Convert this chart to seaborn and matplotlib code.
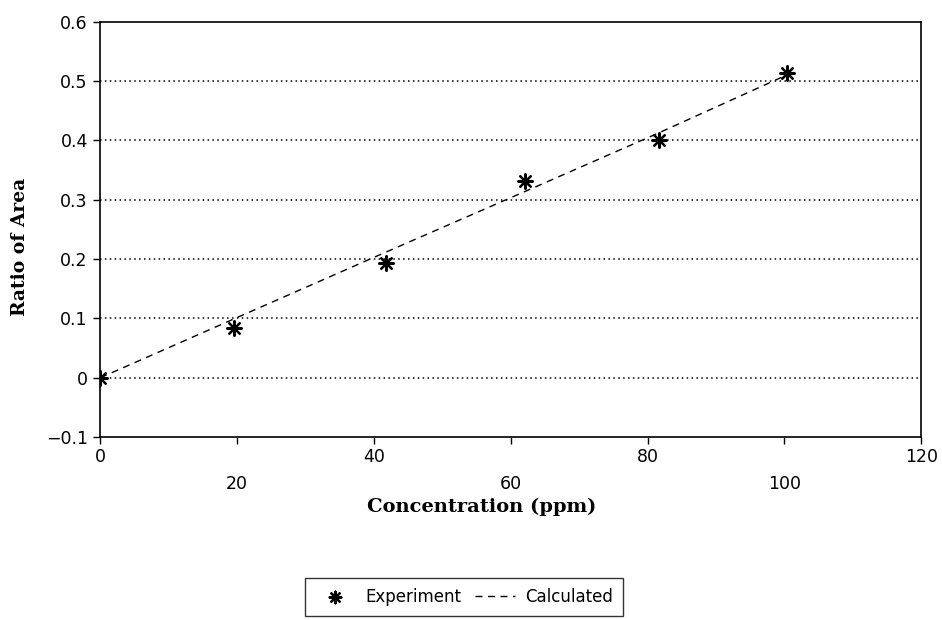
import matplotlib
matplotlib.use("Agg")
import matplotlib.pyplot as plt
import seaborn as sns
import pandas as pd

# ---- data ----
concentration = [0, 19.5, 41.8, 62.1, 81.7, 100.3]
ratio_experiment = [0.0, 0.084, 0.194, 0.332, 0.401, 0.514]
ratio_calculated = [0.0, 0.099, 0.212, 0.314, 0.413, 0.510]
x_major_ticks = [0, 40, 80, 120]
x_minor_ticks = [20, 60, 100]
y_ticks = [-0.1, 0, 0.1, 0.2, 0.3, 0.4, 0.5, 0.6]
y_tick_labels = ["\u22120.1", "0", "0.1", "0.2", "0.3", "0.4", "0.5", "0.6"]

df = pd.DataFrame({"conc": concentration,
                   "exp": ratio_experiment,
                   "calc": ratio_calculated})

sns.set_style("white")
plt.rcParams["font.family"] = ["DejaVu Sans"]
plt.rcParams["text.color"] = "black"
plt.rcParams["axes.labelcolor"] = "black"
plt.rcParams["xtick.color"] = "black"
plt.rcParams["ytick.color"] = "black"

fig = plt.figure(figsize=(9.42, 6.2), dpi=100)
ax = fig.add_axes([0.1065, 0.295, 0.8715, 0.67])

# gridlines
for yv in [0, 0.1, 0.2, 0.3, 0.4, 0.5]:
    ax.axhline(yv, color="black", linestyle=(0, (1, 2.2)), linewidth=1.1, zorder=1)

sns.lineplot(data=df, x="conc", y="calc", ax=ax, color="black",
             linestyle=(0, (5, 4)), linewidth=1.0, label="Calculated", zorder=2)
sns.scatterplot(data=df, x="conc", y="exp", ax=ax, marker=(8, 2, 0), s=110,
                color="black", linewidth=1.6, edgecolor="black",
                label="Experiment", zorder=3)

ax.set_xlim(0, 120)
ax.set_ylim(-0.1, 0.6)

ax.set_xticks(x_major_ticks)
ax.set_xticklabels([str(v) for v in x_major_ticks])
ax.set_xticks(x_minor_ticks, minor=True)
ax.set_xticklabels([str(v) for v in x_minor_ticks], minor=True)
ax.set_yticks(y_ticks)
ax.set_yticklabels(y_tick_labels)

ax.tick_params(axis="x", which="major", direction="out", length=5, width=1,
               pad=3, labelsize=12.5, colors="black", bottom=True)
ax.tick_params(axis="x", which="minor", direction="out", length=5, width=1,
               pad=22, labelsize=12.5, colors="black", bottom=True)
ax.tick_params(axis="y", direction="out", length=5, width=1, pad=4,
               labelsize=12.5, colors="black", left=True)

for s in ax.spines.values():
    s.set_color("black")
    s.set_linewidth(1.2)

ax.set_xlabel("Concentration (ppm)", family="DejaVu Serif", fontsize=14,
              fontweight="semibold", labelpad=4)
ax.xaxis.label.set_x(0.464)
ax.set_ylabel("Ratio of Area", family="DejaVu Serif", fontsize=13.5,
              fontweight="bold", labelpad=12)
ax.yaxis.label.set_y(0.458)

handles, labels = ax.get_legend_handles_labels()
order = [labels.index("Experiment"), labels.index("Calculated")]
leg = fig.legend([handles[i] for i in order], [labels[i] for i in order],
                 loc="upper center", bbox_to_anchor=(0.4925, 0.068), ncol=2,
                 frameon=True, fancybox=False, fontsize=12, handlelength=2.4,
                 columnspacing=0.8, handletextpad=0.6, borderpad=0.6,
                 borderaxespad=0, markerscale=0.8, edgecolor="black")
leg.get_frame().set_linewidth(1.0)
if ax.get_legend():
    ax.get_legend().remove()

fig.savefig("out.png", dpi=100, facecolor="white")
